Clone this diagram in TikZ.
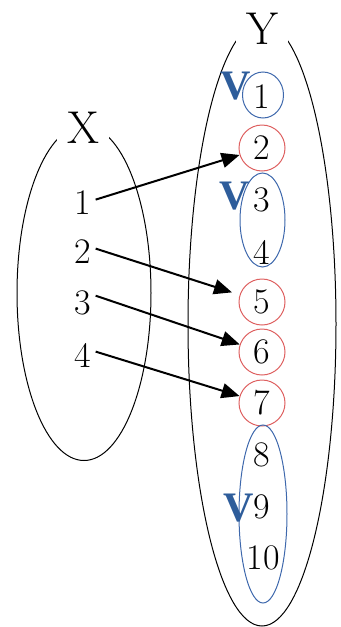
\documentclass[tikz,border=0pt]{standalone}
\usepackage{fontspec}
\newfontfamily\markfont{Liberation Serif}
\usetikzlibrary{arrows.meta,shapes.geometric}

\definecolor{setblue}{RGB}{62,104,172}
\definecolor{markblue}{RGB}{46,93,155}
\definecolor{hitred}{RGB}{222,96,96}

\begin{document}
\begin{tikzpicture}[
  x=0.5pt, y=-0.5pt,
  num/.style={font=\fontsize{18}{20}\selectfont, inner sep=2pt},
  hit/.style={num, circle, draw=hitred, line width=0.5pt, minimum size=23pt},
  grp/.style={ellipse, draw=setblue, line width=0.5pt},
  set/.style={ellipse, draw, line width=0.5pt},
  setlabel/.style={font=\fontsize{23}{25}\selectfont, fill=white,
                   inner xsep=5pt, inner ysep=1pt},
  vmark/.style={font=\markfont\fontsize{21}{23}\selectfont\bfseries,
                text=markblue, inner sep=0pt},
  arr/.style={-{Triangle[length=9pt,width=7.5pt]}, line width=1pt},
]
\useasboundingbox (0,0) rectangle (341,627);

% the two sets
\node[set, minimum width=67pt, minimum height=167.5pt] (setX) at (84,293) {};
\node[set, minimum width=74pt, minimum height=302pt]   (setY) at (262,324) {};
\node[setlabel] (labX) at (83,128) {X};
\node[setlabel] (labY) at (262,29) {Y};

% domain
\node[num] (x1) at (83,203) {1};
\node[num] (x2) at (83,252) {2};
\node[num] (x3) at (83,303) {3};
\node[num] (x4) at (83,355) {4};

% codomain
\node[num] (y1)  at (262,97)  {1};
\node[hit] (y2)  at (262,148) {2};
\node[num] (y3)  at (262,200) {3};
\node[num] (y4)  at (262,252) {4};
\node[hit] (y5)  at (262,302) {5};
\node[hit] (y6)  at (262,352) {6};
\node[hit] (y7)  at (262,403) {7};
\node[num] (y8)  at (262,455) {8};
\node[num] (y9)  at (262,507) {9};
\node[num] (y10) at (263,558) {10};

% unmapped groups
\node[grp, minimum width=20.5pt, minimum height=23pt] (g1)   at (263,95)    {};
\node[grp, minimum width=22.5pt, minimum height=47pt] (g34)  at (262.5,220) {};
\node[grp, minimum width=24pt,   minimum height=89pt] (g810) at (263,514)   {};
\node[vmark] (v1) at (236,86)  {V};
\node[vmark] (v3) at (235,196) {V};
\node[vmark] (v9) at (239,508) {V};

\draw[arr] (x1.15) -- (y2);
\draw[arr, shorten >=4pt] (x2.15) -- (y5);
\draw[arr] (x3.30) -- (y6);
\draw[arr] (x4.15) -- (y7);

\end{tikzpicture}
\end{document}
